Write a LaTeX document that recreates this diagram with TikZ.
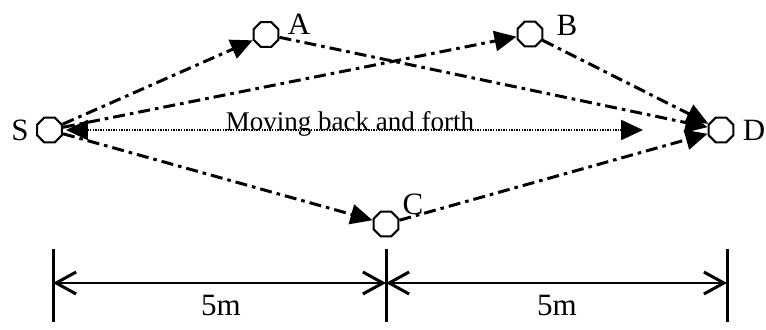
\documentclass[tikz,border=0pt]{standalone}
\usepackage{fontspec}
\setmainfont{Liberation Serif}
\usetikzlibrary{arrows.meta,shapes.geometric}
\begin{document}
\begin{tikzpicture}[x=0.5pt,y=-0.5pt,
  oct/.style={draw,line width=1pt,regular polygon,regular polygon sides=8,minimum size=13.5pt,inner sep=0pt},
  lbl/.style={inner sep=0pt,font=\fontsize{15.5}{18}\selectfont},
  txt/.style={inner sep=0pt,font=\fontsize{13.5}{16}\selectfont},
  dd/.style={line width=1.5pt,dash pattern=on 6pt off 2.5pt on 1.8pt off 2.5pt,-{Triangle[length=11pt,width=10pt]}},
  dotline/.style={line width=1.2pt,dash pattern=on 0.7pt off 0.6pt,{Triangle[length=11pt,width=10pt]}-{Triangle[length=11pt,width=10pt]}},
  dimline/.style={line width=1.2pt,{Straight Barb[length=10pt,width=11pt,line width=1.5pt]}-{Straight Barb[length=10pt,width=11pt,line width=1.5pt]}},
  tickline/.style={line width=1.5pt}
]
\useasboundingbox (0,0) rectangle (766,330);
% stations
\node[oct] (S) at (49.5,130) {};
\node[oct] (A) at (266,34.5) {};
\node[oct] (B) at (530,34) {};
\node[oct] (C) at (386,224) {};
\node[oct] (D) at (721,130) {};
% labels
\node[lbl] (Sl) at (20,130) {S};
\node[lbl] (Al) at (299,24) {A};
\node[lbl] (Bl) at (567,25) {B};
\node[lbl] (Cl) at (413,204) {C};
\node[lbl] (Dl) at (754,130) {D};
% routes
\draw[dd] (S) -- (A);
\draw[dd] (S) -- (B);
\draw[dd] (S) -- (C);
\draw[dd] (A) -- (D);
\draw[dd] (B) -- (D);
\draw[dd] (C) -- (D);
% moving back and forth
\coordinate (R) at (643,130);
\draw[dotline,shorten <=1.5pt] (S) -- (R);
\node[txt,anchor=base] (mv) at (350,131) {Moving back and forth};
% dimension
\coordinate (L) at (53,283);
\coordinate (M) at (386,283);
\coordinate (E) at (727,283);
\coordinate (Lt) at (53,249);
\coordinate (Lb) at (53,322);
\coordinate (Mt) at (386,249);
\coordinate (Mb) at (386,322);
\coordinate (Et) at (727,249);
\coordinate (Eb) at (727,322);
\draw[tickline] (Lt) -- (Lb);
\draw[tickline] (Mt) -- (Mb);
\draw[tickline] (Et) -- (Eb);
\draw[dimline] (L) -- (M);
\draw[dimline] (M) -- (E);
\node[lbl] (d1) at (221,306) {5m};
\node[lbl] (d2) at (557,306) {5m};
\end{tikzpicture}
\end{document}
